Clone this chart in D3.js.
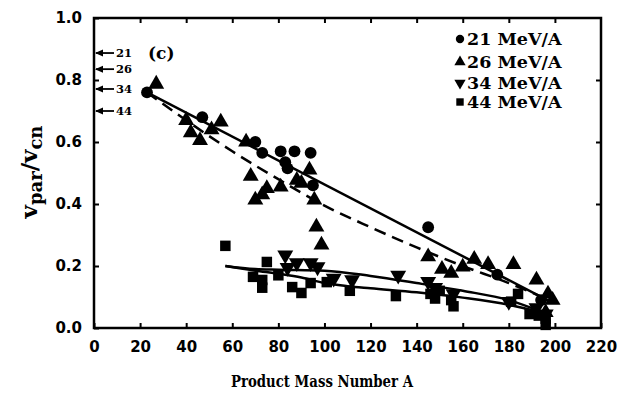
<!DOCTYPE html>
<html>
<head>
<meta charset="utf-8">
<script src="https://cdn.jsdelivr.net/npm/d3@7"></script>
<style>
  html, body { margin: 0; padding: 0; background: #fff; }
  svg { display: block; }
  .tick text { font-family: "DejaVu Sans", sans-serif; font-weight: bold; font-size: 15px; fill: #000; }
  .tick line { stroke: #000; stroke-width: 2; }
  .lbl { font-family: "DejaVu Serif", serif; font-weight: bold; fill: #000; }
</style>
</head>
<body>
<svg id="chart" width="621" height="400"></svg>
<script>
// Parallel velocity ratio vs product mass number, four beam energies
const energies = ["21 MeV/A", "26 MeV/A", "34 MeV/A", "44 MeV/A"];

// measured points [A, v_par/v_cn]
const pts21 = [[23,0.76],[47,0.68],[70,0.60],[73,0.565],[81,0.57],[87,0.57],[94,0.565],
  [83,0.535],[84,0.515],[95,0.46],[145,0.325],[175,0.172],[194,0.09]];
const pts26 = [[27,0.787],[40,0.67],[42,0.63],[46,0.605],[51,0.64],[55,0.665],[66,0.6],
  [68,0.49],[70,0.413],[73,0.43],[75,0.45],[81,0.455],[88,0.477],[90,0.467],[93.5,0.51],
  [95.6,0.413],[96.5,0.326],[98.7,0.268],[145,0.23],[151,0.19],[155,0.177],[160,0.197],
  [165,0.222],[171,0.205],[182,0.205],[192,0.155],[197,0.11],[199,0.09],[196,0.05]];
const pts34 = [[83,0.235],[84,0.195],[88,0.21],[94,0.21],[97,0.197],[104,0.16],[112,0.155],
  [132,0.17],[145,0.15],[148,0.13],[156,0.11],[180,0.085],[192,0.065],[196,0.045]];
const pts44 = [[57,0.265],[75,0.213],[69,0.165],[73,0.155],[73,0.13],[80,0.17],[86,0.132],
  [90,0.113],[94,0.145],[101,0.148],[111,0.12],[131,0.103],[146,0.11],[148,0.095],[150,0.12],
  [155,0.09],[156,0.07],[184,0.11],[181,0.085],[189,0.045],[193,0.04],[196,0.03],[196,0.01]];

// fitted trend curves
const fit21 = [[23,0.76],[198,0.085]];
const fit26 = [[23,0.76],[40,0.67],[60,0.57],[80,0.48],[100,0.395],[120,0.325],[140,0.26],
  [160,0.2],[180,0.145],[198,0.088]];
const fit34 = [[57,0.2],[70,0.19],[80,0.188],[100,0.185],[120,0.168],[140,0.145],[160,0.12],
  [180,0.09],[195,0.05]];
const fit44 = [[57,0.2],[70,0.185],[80,0.175],[90,0.163],[100,0.145],[110,0.135],[120,0.128],
  [140,0.115],[160,0.098],[180,0.075],[195,0.048]];

// compound-nucleus reference arrows on the left axis
const arrowLabels = ["21", "26", "34", "44"];
const arrowValues = [0.887, 0.835, 0.771, 0.70];

const xTicks = [0,20,40,60,80,100,120,140,160,180,200,220];
const yTicks = [0,0.2,0.4,0.6,0.8,1.0];

const svg = d3.select("#chart");
const x = d3.scaleLinear().domain([0, 220]).range([94, 601]);
const y = d3.scaleLinear().domain([0, 1]).range([328, 18]);

// axes with inward ticks on all four sides
svg.append("g").attr("transform", `translate(0,${y(0)})`)
  .call(d3.axisBottom(x).tickValues(xTicks).tickSize(-5).tickPadding(13).tickFormat(d3.format("d")))
  .call(g => g.select(".domain").remove());
svg.append("g").attr("transform", `translate(0,${y(1)})`)
  .call(d3.axisTop(x).tickValues(xTicks.slice(1, -1)).tickSize(-5).tickFormat(""))
  .call(g => g.select(".domain").remove());
svg.append("g").attr("transform", `translate(${x(0)},0)`)
  .call(d3.axisLeft(y).tickValues(yTicks).tickSize(-5).tickPadding(12).tickFormat(d3.format(".1f")))
  .call(g => g.select(".domain").remove());
svg.append("g").attr("transform", `translate(${x(220)},0)`)
  .call(d3.axisRight(y).tickValues(yTicks.slice(1, -1)).tickSize(-5).tickFormat(""))
  .call(g => g.select(".domain").remove());

svg.append("rect")
  .attr("x", x(0)).attr("y", y(1))
  .attr("width", x(220) - x(0)).attr("height", y(0) - y(1))
  .attr("fill", "none").attr("stroke", "#000").attr("stroke-width", 2.5);

// trend lines
const line = d3.line().x(d => x(d[0])).y(d => y(d[1])).curve(d3.curveMonotoneX);
const fits = [
  { data: fit21, dash: null },
  { data: fit26, dash: "12,7" },
  { data: fit34, dash: null },
  { data: fit44, dash: null }
];
svg.append("g").selectAll("path").data(fits).join("path")
  .attr("d", d => line(d.data))
  .attr("fill", "none").attr("stroke", "#000").attr("stroke-width", 2.5)
  .attr("stroke-dasharray", d => d.dash);

// markers
const symbolTypes = [d3.symbolCircle, d3.symbolTriangle, d3.symbolTriangle, d3.symbolSquare];
const symbolSizes = [110, 110, 110, 110];
const rotations = [0, 0, 180, 0];
const series = [pts21, pts26, pts34, pts44];
series.forEach((pts, i) => {
  svg.append("g").selectAll("path").data(pts).join("path")
    .attr("transform", d => `translate(${x(d[0])},${y(d[1])}) rotate(${rotations[i]})`)
    .attr("d", d3.symbol().type(symbolTypes[i]).size(symbolSizes[i]))
    .attr("fill", "#000");
});

// legend
const legendY = [39, 62, 83, 102];
energies.forEach((t, i) => {
  svg.append("path")
    .attr("transform", `translate(460,${legendY[i]}) rotate(${rotations[i]})`)
    .attr("d", d3.symbol().type(symbolTypes[i]).size(55))
    .attr("fill", "#000");
  svg.append("text").attr("class", "lbl")
    .attr("x", 467).attr("y", legendY[i]).attr("dy", "0.36em")
    .attr("font-size", 17.5)
    .text(t);
});

// arrows marking compound-nucleus velocities
const ag = svg.append("g");
arrowValues.forEach((v, i) => {
  const yy = y(v);
  ag.append("line").attr("x1", x(0) + 2).attr("x2", x(0) + 20)
    .attr("y1", yy).attr("y2", yy).attr("stroke", "#000").attr("stroke-width", 1.8);
  ag.append("path")
    .attr("d", `M${x(0) + 1},${yy} l8,-3.5 l0,7 z`).attr("fill", "#000");
  ag.append("text").attr("class", "lbl")
    .attr("x", x(0) + 22).attr("y", yy).attr("dy", "0.36em")
    .attr("font-size", 11.5).text(arrowLabels[i]);
});

// panel tag
svg.append("text").attr("class", "lbl")
  .attr("x", 148).attr("y", 53).attr("dy", "0.36em")
  .attr("font-size", 17).text("(c)");

// axis titles
svg.append("text").attr("class", "lbl")
  .attr("x", 322).attr("y", 387)
  .attr("text-anchor", "middle").attr("font-size", 16)
  .attr("textLength", 182).attr("lengthAdjust", "spacingAndGlyphs")
  .text("Product Mass Number A");

const yt = svg.append("text").attr("class", "lbl")
  .attr("transform", "translate(37,172) rotate(-90)")
  .attr("text-anchor", "middle").attr("font-size", 23);
yt.append("tspan").text("v");
yt.append("tspan").attr("font-size", 18).attr("dy", 5).text("par");
yt.append("tspan").attr("dy", -5).text("/v");
yt.append("tspan").attr("font-size", 18).attr("dy", 5).text("cn");
</script>
</body>
</html>
